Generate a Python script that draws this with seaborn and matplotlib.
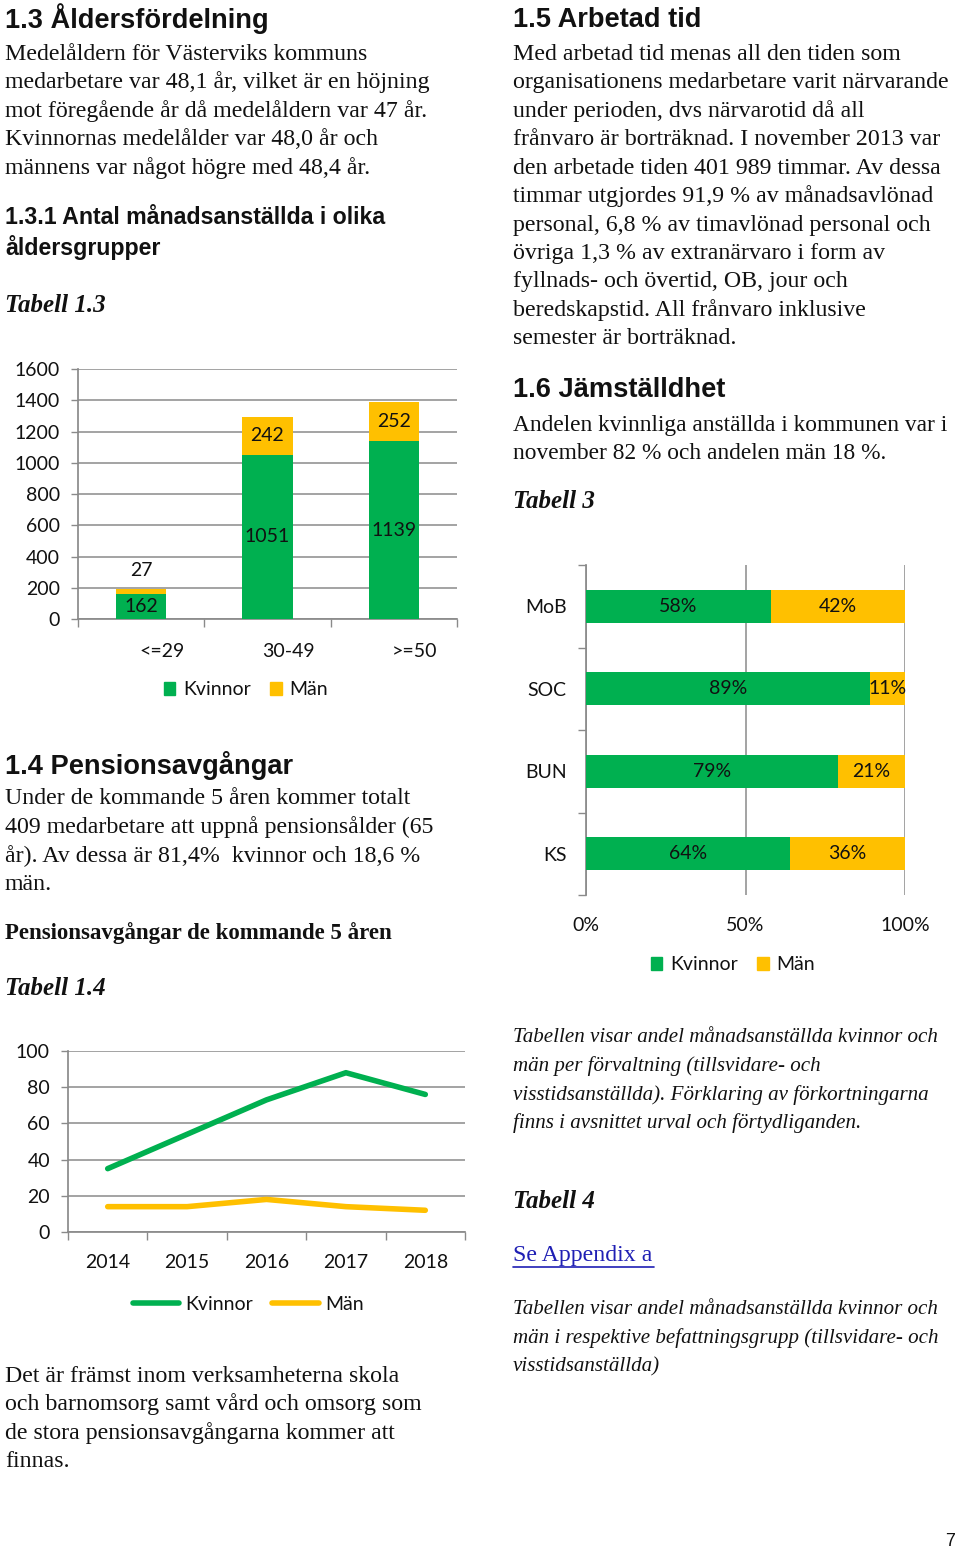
import matplotlib
matplotlib.use("Agg")
import matplotlib.pyplot as plt
import matplotlib.transforms as mtransforms
from matplotlib.patches import Patch
from matplotlib.lines import Line2D
import seaborn as sns
import pandas as pd
import numpy as np

sns.set_theme(style="white")
plt.rcParams['font.family'] = ['Lato', 'DejaVu Sans']

# ---------------- data ----------------
age_groups = ["<=29", "30-49", ">=50"]
age_kvinnor = [162, 1051, 1139]
age_man = [27, 242, 252]

years = ["2014", "2015", "2016", "2017", "2018"]
pens_kvinnor = [35, 54, 73, 88, 76]
pens_man = [14, 14, 18, 14, 12]

forvaltning = ["MoB", "SOC", "BUN", "KS"]
forv_kvinnor = [58, 89, 79, 64]
forv_man = [42, 11, 21, 36]

GREEN = "#00B050"
YELLOW = "#FFC000"
GRID = "#8A8A8A"
TXT = "#111111"

W, H = 960, 1551
fig = plt.figure(figsize=(W / 100, H / 100), dpi=100)
fig.patch.set_facecolor("white")

HEAD = "Liberation Sans"
BODY = "Liberation Serif"
BODY_FS = 17.2
H1_FS = 19.6
H2_FS = 16.7
TAB_FS = 18


def ptext(x, y, s, **kw):
    kw.setdefault("va", "center")
    kw.setdefault("ha", "left")
    kw.setdefault("color", TXT)
    return fig.text(x / W, 1 - y / H, s, **kw)


def add_ax(l, t, r, b):
    return fig.add_axes([l / W, 1 - b / H, (r - l) / W, (b - t) / H])


def body_lines(x, y0, lines, step=28.5, **kw):
    kw.setdefault("family", BODY)
    kw.setdefault("fontsize", BODY_FS)
    for i, s in enumerate(lines):
        ptext(x, y0 + i * step, s, **kw)


# ---------------- left column text ----------------
ptext(5, 19, "1.3 Åldersfördelning", family=HEAD, weight="bold", fontsize=H1_FS)
body_lines(5, 54, [
    "Medelåldern för Västerviks kommuns",
    "medarbetare var 48,1 år, vilket är en höjning",
    "mot föregående år då medelåldern var 47 år.",
    "Kvinnornas medelålder var 48,0 år och",
    "männens var något högre med 48,4 år.",
])
ptext(5, 217, "1.3.1 Antal månadsanställda i olika", family=HEAD, weight="bold", fontsize=H2_FS)
ptext(5, 247, "åldersgrupper", family=HEAD, weight="bold", fontsize=H2_FS)
ptext(5, 306, "Tabell 1.3", family=BODY, weight="bold", style="italic", fontsize=TAB_FS)

ptext(5, 765, "1.4 Pensionsavgångar", family=HEAD, weight="bold", fontsize=H1_FS)
body_lines(5, 799, [
    "Under de kommande 5 åren kommer totalt",
    "409 medarbetare att uppnå pensionsålder (65",
    "år). Av dessa är 81,4%  kvinnor och 18,6 %",
    "män.",
])
ptext(5, 933, "Pensionsavgångar de kommande 5 åren", family=BODY, weight="bold", fontsize=16.5)
ptext(5, 988, "Tabell 1.4", family=BODY, weight="bold", style="italic", fontsize=TAB_FS)
body_lines(5, 1376, [
    "Det är främst inom verksamheterna skola",
    "och barnomsorg samt vård och omsorg som",
    "de stora pensionsavgångarna kommer att",
    "finnas.",
])

# ---------------- right column text ----------------
ptext(513, 20, "1.5 Arbetad tid", family=HEAD, weight="bold", fontsize=H1_FS)
body_lines(513, 54, [
    "Med arbetad tid menas all den tiden som",
    "organisationens medarbetare varit närvarande",
    "under perioden, dvs närvarotid då all",
    "frånvaro är borträknad. I november 2013 var",
    "den arbetade tiden 401 989 timmar. Av dessa",
    "timmar utgjordes 91,9 % av månadsavlönad",
    "personal, 6,8 % av timavlönad personal och",
    "övriga 1,3 % av extranärvaro i form av",
    "fyllnads- och övertid, OB, jour och",
    "beredskapstid. All frånvaro inklusive",
    "semester är borträknad.",
])
ptext(513, 390, "1.6 Jämställdhet", family=HEAD, weight="bold", fontsize=H1_FS)
body_lines(513, 425, [
    "Andelen kvinnliga anställda i kommunen var i",
    "november 82 % och andelen män 18 %.",
], fontsize=16.8)
ptext(513, 501, "Tabell 3", family=BODY, weight="bold", style="italic", fontsize=TAB_FS)
body_lines(513, 1038, [
    "Tabellen visar andel månadsanställda kvinnor och",
    "män per förvaltning (tillsvidare- och",
    "visstidsanställda). Förklaring av förkortningarna",
    "finns i avsnittet urval och förtydliganden.",
], step=28.4, style="italic", fontsize=15.1)
ptext(513, 1201, "Tabell 4", family=BODY, weight="bold", style="italic", fontsize=TAB_FS)
ptext(513, 1256, "Se Appendix a", family=BODY, fontsize=BODY_FS, color="#1F1FB4")
fig.add_artist(Line2D([513 / W, 654 / W], [1 - 1267 / H, 1 - 1267 / H], color="#1F1FB4", lw=1.2))
body_lines(513, 1310, [
    "Tabellen visar andel månadsanställda kvinnor och",
    "män i respektive befattningsgrupp (tillsvidare- och",
    "visstidsanställda)",
], step=28.5, style="italic", fontsize=15.1)
ptext(955, 1541, "7", family=HEAD, fontsize=13, ha="right")

CH_FS = 14


def style_axis(ax):
    for sp in ax.spines.values():
        sp.set_visible(False)
    ax.set_xlabel("")
    ax.set_ylabel("")
    ax.set_facecolor("none")


# ---------------- chart 1: stacked bars ----------------
ax1 = add_ax(78, 369, 457, 619)
df_age = pd.DataFrame({"grupp": age_groups, "Kvinnor": age_kvinnor, "Män": age_man})
df_age["total"] = df_age["Kvinnor"] + df_age["Män"]
sns.barplot(data=df_age, x="grupp", y="total", color=YELLOW, saturation=1, width=0.4,
            linewidth=0, ax=ax1, zorder=3)
sns.barplot(data=df_age, x="grupp", y="Kvinnor", color=GREEN, saturation=1, width=0.4,
            linewidth=0, ax=ax1, zorder=4)
ax1.set_ylim(0, 1600)
ax1.set_xlim(-0.5, 2.5)
ax1.set_yticks(np.arange(0, 1601, 200))
ax1.yaxis.grid(True, color=GRID, lw=1.1, zorder=0)
ax1.set_axisbelow(True)
style_axis(ax1)
ax1.spines["left"].set_visible(True)
ax1.spines["left"].set_color(GRID)
ax1.spines["bottom"].set_visible(True)
ax1.spines["bottom"].set_color(GRID)
ax1.tick_params(axis="y", which="major", length=5, color=GRID, width=1, labelsize=CH_FS,
                labelcolor=TXT, pad=8, left=True)
ax1.set_xticks(range(3))
ax1.set_xticklabels(age_groups)
ax1.set_xticks([-0.5, 0.5, 1.5, 2.5], minor=True)
ax1.tick_params(axis="x", which="major", length=0, labelsize=CH_FS, labelcolor=TXT, pad=17)
ax1.tick_params(axis="x", which="minor", length=6, color=GRID, width=1, bottom=True)
off = mtransforms.ScaledTranslation(0.21, 0, fig.dpi_scale_trans)
for lab in ax1.get_xticklabels():
    lab.set_transform(lab.get_transform() + off)
for i, (k, m) in enumerate(zip(age_kvinnor, age_man)):
    ax1.text(i, k / 2, str(k), ha="center", va="center", fontsize=CH_FS, color=TXT, zorder=5)
    if m < 100:
        ax1.annotate(str(m), (i, k + m), xytext=(0, 14), textcoords="offset points",
                     ha="center", va="center", fontsize=CH_FS, color=TXT)
    else:
        ax1.text(i, k + m / 2, str(m), ha="center", va="center", fontsize=CH_FS, color=TXT, zorder=5)

fig.legend(handles=[Patch(color=GREEN, label="Kvinnor"), Patch(color=YELLOW, label="Män")],
           loc="center", bbox_to_anchor=(246 / W, 1 - 690 / H), ncol=2, frameon=False,
           fontsize=CH_FS, handlelength=0.6, handleheight=0.6, handletextpad=0.4,
           columnspacing=1.0, labelcolor=TXT)

# ---------------- chart 2: lines ----------------
ax2 = add_ax(68, 1051, 465, 1232)
df_pens = pd.DataFrame({
    "år": years * 2,
    "antal": pens_kvinnor + pens_man,
    "kön": ["Kvinnor"] * len(years) + ["Män"] * len(years),
})
sns.lineplot(data=df_pens, x="år", y="antal", hue="kön", palette=[GREEN, YELLOW],
             linewidth=4, ax=ax2, legend=False, zorder=3)
ax2.set_ylim(0, 100)
ax2.set_xlim(-0.5, 4.5)
ax2.set_yticks(np.arange(0, 101, 20))
ax2.yaxis.grid(True, color=GRID, lw=1.1, zorder=0)
ax2.set_axisbelow(True)
style_axis(ax2)
ax2.spines["left"].set_visible(True)
ax2.spines["left"].set_color(GRID)
ax2.spines["bottom"].set_visible(True)
ax2.spines["bottom"].set_color(GRID)
ax2.tick_params(axis="y", which="major", length=5, color=GRID, width=1, labelsize=CH_FS,
                labelcolor=TXT, pad=8, left=True)
ax2.set_xticks(range(5))
ax2.set_xticks(np.arange(-0.5, 5, 1), minor=True)
ax2.tick_params(axis="x", which="major", length=0, labelsize=CH_FS, labelcolor=TXT, pad=16)
ax2.tick_params(axis="x", which="minor", length=6, color=GRID, width=1, bottom=True)

fig.legend(handles=[Line2D([], [], color=GREEN, lw=4, label="Kvinnor"),
                    Line2D([], [], color=YELLOW, lw=4, label="Män")],
           loc="center", bbox_to_anchor=(248 / W, 1 - 1304 / H), ncol=2, frameon=False,
           fontsize=CH_FS, handlelength=2.4, handletextpad=0.3, columnspacing=1.0,
           labelcolor=TXT)

# ---------------- chart 3: 100% horizontal bars ----------------
ax3 = add_ax(586, 565, 905, 895)
df_f = pd.DataFrame({"förv": forvaltning, "Kvinnor": forv_kvinnor, "Män": forv_man})
df_f["total"] = df_f["Kvinnor"] + df_f["Män"]
sns.barplot(data=df_f, y="förv", x="total", color=YELLOW, saturation=1, width=0.4,
            linewidth=0, ax=ax3, orient="h", zorder=3)
sns.barplot(data=df_f, y="förv", x="Kvinnor", color=GREEN, saturation=1, width=0.4,
            linewidth=0, ax=ax3, orient="h", zorder=4)
ax3.set_xlim(0, 100)
ax3.set_ylim(3.5, -0.5)
ax3.set_xticks([0, 50, 100])
ax3.set_xticklabels(["0%", "50%", "100%"])
ax3.xaxis.grid(True, color=GRID, lw=1.1, zorder=0)
ax3.set_axisbelow(True)
style_axis(ax3)
ax3.spines["left"].set_visible(True)
ax3.spines["left"].set_color(GRID)
ax3.tick_params(axis="x", which="major", length=0, labelsize=CH_FS, labelcolor=TXT, pad=16)
ax3.set_yticks(range(4))
ax3.set_yticklabels(forvaltning)
ax3.set_yticks(np.arange(-0.5, 4, 1), minor=True)
ax3.tick_params(axis="y", which="major", length=0, labelsize=CH_FS, labelcolor=TXT, pad=14)
ax3.tick_params(axis="y", which="minor", length=6, color=GRID, width=1, left=True)
for i, (k, m) in enumerate(zip(forv_kvinnor, forv_man)):
    ax3.text(k / 2, i, f"{k}%", ha="center", va="center", fontsize=CH_FS, color=TXT, zorder=5)
    ax3.text(k + m / 2, i, f"{m}%", ha="center", va="center", fontsize=CH_FS, color=TXT, zorder=5)

fig.legend(handles=[Patch(color=GREEN, label="Kvinnor"), Patch(color=YELLOW, label="Män")],
           loc="center", bbox_to_anchor=(733 / W, 1 - 965 / H), ncol=2, frameon=False,
           fontsize=CH_FS, handlelength=0.6, handleheight=0.6, handletextpad=0.4,
           columnspacing=1.0, labelcolor=TXT)

fig.savefig("out.png", dpi=100, facecolor="white")
